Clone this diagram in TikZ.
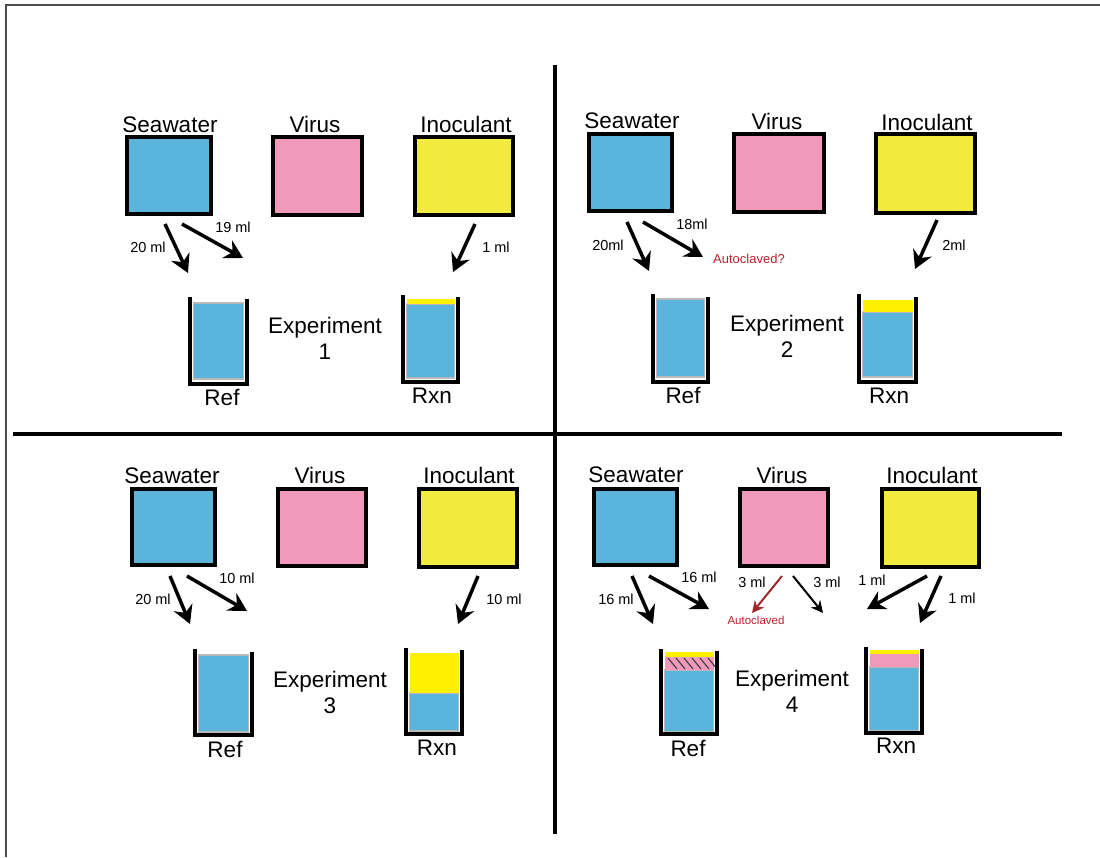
\documentclass[tikz,border=0pt]{standalone}
\usepackage{fontspec}
\setmainfont{Liberation Sans}
\usetikzlibrary{arrows.meta,patterns}
\definecolor{sea}{RGB}{91,180,220}
\definecolor{vir}{RGB}{240,153,187}
\definecolor{ino}{RGB}{242,234,62}
\definecolor{bright}{RGB}{255,240,0}
\definecolor{auto}{RGB}{190,30,45}
\definecolor{autoarrow}{RGB}{160,40,40}
\tikzset{
  tank/.style={draw=black, line width=4pt, inner sep=0pt},
  big/.style={font=\fontsize{22.5}{26}\selectfont, inner sep=0pt, align=center},
  small/.style={font=\fontsize{14.5}{16}\selectfont, inner sep=0pt},
  redlbl/.style={font=\fontsize{13}{15}\selectfont, inner sep=0pt, text=auto},
  flow/.style={line width=3.5pt, -{Stealth[length=18pt,width=20pt,inset=6pt]}},
  thinflow/.style={line width=2pt, -{Stealth[length=12pt,width=12pt,inset=4pt]}},
  wall/.style={line width=4pt},
  liquid/.style={draw=gray!55, line width=1.2pt},
  divider/.style={line width=4pt},
}
\begin{document}
\begin{tikzpicture}[x=1pt,y=-1pt]
\useasboundingbox (0,0) rectangle (1100,857);
% frame
\draw[gray!60!black, line width=2pt] (6,857) -- (6,5) -- (1100,5);
% dividers
\draw[divider] (555,65) -- (555,834);
\draw[divider] (13,434) -- (1062,434);

% ================= Quadrant 1 =================
\node[tank, fill=sea, minimum width=84pt, minimum height=77pt] (sw1) at (169,175.5) {};
\node[tank, fill=vir, minimum width=89pt, minimum height=78pt] (vi1) at (317.5,176) {};
\node[tank, fill=ino, minimum width=98pt, minimum height=78pt] (in1) at (464,176) {};
\node[big, anchor=base] (lsw1) at (170,132) {Seawater};
\node[big, anchor=base] (lvi1) at (315,132) {Virus};
\node[big, anchor=base] (lin1) at (466,132) {Inoculant};
\coordinate (a1s) at (165,224); \coordinate (a1e) at (188,273);
\coordinate (b1s) at (182,224); \coordinate (b1e) at (243,258);
\coordinate (c1s) at (475,224); \coordinate (c1e) at (453,272);
\draw[flow] (a1s) -- (a1e);
\draw[flow] (b1s) -- (b1e);
\draw[flow] (c1s) -- (c1e);
\node[small] (t1a) at (148,247) {20 ml};
\node[small] (t1b) at (233,227) {19 ml};
\node[small] (t1c) at (496,247) {1 ml};
% Ref beaker
\draw[liquid, fill=sea] (193.5,303) rectangle (243.5,379);
\draw[wall] (190,297) -- (190,384) -- (247,384) -- (247,299);
% Rxn beaker
\draw[liquid, fill=sea] (406.5,304) rectangle (454.5,378);
\fill[bright] (406.5,299) rectangle (454.5,304);
\draw[wall] (403,295) -- (403,382) -- (458,382) -- (458,297);
\node[big, anchor=base] (ref1) at (222,405) {Ref};
\node[big, anchor=base] (rxn1) at (432,403) {Rxn};
\node[big, anchor=base] (ex1) at (325,359) {Experiment\\1};

% ================= Quadrant 2 =================
\node[tank, fill=sea, minimum width=83pt, minimum height=77pt] (sw2) at (630.5,172.5) {};
\node[tank, fill=vir, minimum width=90pt, minimum height=78pt] (vi2) at (779,173) {};
\node[tank, fill=ino, minimum width=99pt, minimum height=79pt] (in2) at (925.5,173.5) {};
\node[big, anchor=base] (lsw2) at (632,128) {Seawater};
\node[big, anchor=base] (lvi2) at (777,129) {Virus};
\node[big, anchor=base] (lin2) at (927,130) {Inoculant};
\coordinate (a2s) at (627,222); \coordinate (a2e) at (649,271);
\coordinate (b2s) at (643,222); \coordinate (b2e) at (703,257);
\coordinate (c2s) at (937,220); \coordinate (c2e) at (915,269);
\draw[flow] (a2s) -- (a2e);
\draw[flow] (b2s) -- (b2e);
\draw[flow] (c2s) -- (c2e);
\node[small] (t2a) at (608,245) {20ml};
\node[small] (t2b) at (692,224) {18ml};
\node[small] (t2c) at (954,245) {2ml};
\node[redlbl] (au2) at (749,259) {Autoclaved?};
% Ref beaker
\draw[liquid, fill=sea] (656.5,299) rectangle (704.5,377);
\draw[wall] (653,294) -- (653,382) -- (708,382) -- (708,297);
% Rxn beaker
\draw[liquid, fill=sea] (862.5,312) rectangle (912.5,377);
\fill[bright] (862.5,300) rectangle (912.5,312);
\draw[wall] (859,294) -- (859,382) -- (916,382) -- (916,297);
\node[big, anchor=base] (ref2) at (683,403) {Ref};
\node[big, anchor=base] (rxn2) at (889,403) {Rxn};
\node[big, anchor=base] (ex2) at (787,357) {Experiment\\2};

% ================= Quadrant 3 =================
\node[tank, fill=sea, minimum width=83pt, minimum height=76pt] (sw3) at (173.5,527) {};
\node[tank, fill=vir, minimum width=88pt, minimum height=77pt] (vi3) at (322,527.5) {};
\node[tank, fill=ino, minimum width=98pt, minimum height=78pt] (in3) at (468,528) {};
\node[big, anchor=base] (lsw3) at (172,483) {Seawater};
\node[big, anchor=base] (lvi3) at (320,483) {Virus};
\node[big, anchor=base] (lin3) at (469,483) {Inoculant};
\coordinate (a3s) at (170,576); \coordinate (a3e) at (190,624);
\coordinate (b3s) at (187,576); \coordinate (b3e) at (247,611);
\coordinate (c3s) at (478,576); \coordinate (c3e) at (458,624);
\draw[flow] (a3s) -- (a3e);
\draw[flow] (b3s) -- (b3e);
\draw[flow] (c3s) -- (c3e);
\node[small] (t3a) at (153,599) {20 ml};
\node[small] (t3b) at (237,578) {10 ml};
\node[small] (t3c) at (504,599) {10 ml};
% Ref beaker
\draw[liquid, fill=sea] (198.5,655) rectangle (248.5,732);
\draw[wall] (195,649) -- (195,735) -- (252,735) -- (252,652);
% Rxn beaker
\draw[liquid, fill=sea] (409.5,693) rectangle (458.5,731);
\fill[bright] (409.5,653) rectangle (458.5,693);
\draw[wall] (406,648) -- (406,734) -- (462,734) -- (462,650);
\node[big, anchor=base] (ref3) at (225,757) {Ref};
\node[big, anchor=base] (rxn3) at (437,755) {Rxn};
\node[big, anchor=base] (ex3) at (330,713) {Experiment\\3};

% ================= Quadrant 4 =================
\node[tank, fill=sea, minimum width=83pt, minimum height=76pt] (sw4) at (635.5,527) {};
\node[tank, fill=vir, minimum width=88pt, minimum height=77pt] (vi4) at (784,527.5) {};
\node[tank, fill=ino, minimum width=97pt, minimum height=78pt] (in4) at (930.5,528) {};
\node[big, anchor=base] (lsw4) at (636,482) {Seawater};
\node[big, anchor=base] (lvi4) at (782,483) {Virus};
\node[big, anchor=base] (lin4) at (932,483) {Inoculant};
\coordinate (a4s) at (632,576); \coordinate (a4e) at (653,624);
\coordinate (b4s) at (649,576); \coordinate (b4e) at (709,609);
\coordinate (r4s) at (782,576); \coordinate (r4e) at (752,613);
\coordinate (v4s) at (793,576); \coordinate (v4e) at (823,613);
\coordinate (i4s) at (927,576); \coordinate (i4e) at (867,609);
\coordinate (j4s) at (941,576); \coordinate (j4e) at (920,623);
\draw[flow] (a4s) -- (a4e);
\draw[flow] (b4s) -- (b4e);
\draw[thinflow, draw=autoarrow, fill=autoarrow] (r4s) -- (r4e);
\draw[thinflow] (v4s) -- (v4e);
\draw[flow] (i4s) -- (i4e);
\draw[flow] (j4s) -- (j4e);
\node[small] (t4a) at (616,599) {16 ml};
\node[small] (t4b) at (699,577) {16 ml};
\node[small] (t4c) at (752,582) {3 ml};
\node[small] (t4d) at (827,582) {3 ml};
\node[small] (t4e) at (872,580) {1 ml};
\node[small] (t4f) at (962,598) {1 ml};
\node[redlbl, font=\fontsize{11.5}{13}\selectfont] (au4) at (756,620) {Autoclaved};
% Ref beaker
\draw[liquid, fill=sea] (664.5,670) rectangle (713.5,732);
\fill[vir] (664.5,657) rectangle (713.5,670);
\fill[bright] (664.5,652) rectangle (713.5,657);
\foreach \hx in {668,676,684,692,700,708}
  \draw[black!80, line width=1pt] (\hx,658) -- (\hx+9,669);
\draw[wall] (661,649) -- (661,734) -- (717,734) -- (717,651);
% Rxn beaker
\draw[liquid, fill=sea] (869.5,667) rectangle (918.5,731);
\fill[vir] (869.5,654) rectangle (918.5,667);
\fill[bright] (869.5,650) rectangle (918.5,654);
\draw[wall] (866,647) -- (866,733) -- (922,733) -- (922,649);
\node[big, anchor=base] (ref4) at (688,756) {Ref};
\node[big, anchor=base] (rxn4) at (896,753) {Rxn};
\node[big, anchor=base] (ex4) at (792,712) {Experiment\\4};
\end{tikzpicture}
\end{document}
